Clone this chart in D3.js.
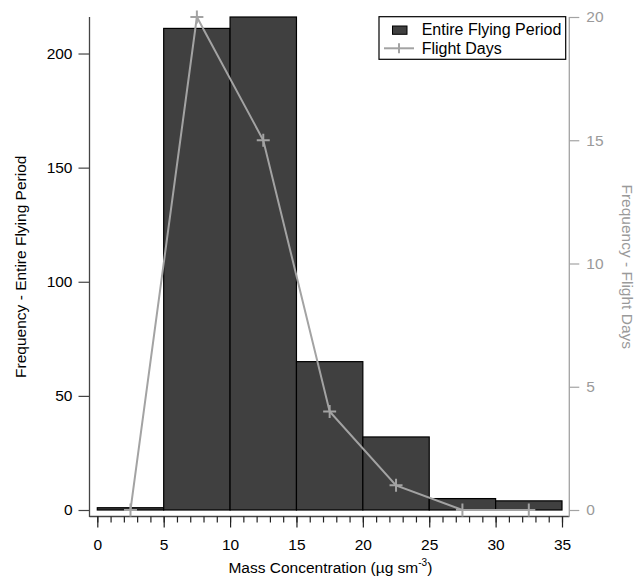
<!DOCTYPE html>
<html>
<head>
<meta charset="utf-8">
<script src="https://cdn.jsdelivr.net/npm/d3@7"></script>
<style>
  html, body { margin: 0; padding: 0; background: #fff; }
  svg { display: block; font-family: "Liberation Sans", Arial, sans-serif; }
</style>
</head>
<body>
<svg id="chart" width="640" height="581"></svg>
<script>
// ---------- data ----------
const binStarts   = [0, 5, 10, 15, 20, 25, 30];
const binWidth    = 5;
const entireFreq  = [1, 211, 216, 65, 32, 5, 4];
const flightCenters = [2.5, 7.5, 12.5, 17.5, 22.5, 27.5, 32.5];
const flightDays  = [0, 20, 15, 4, 1, 0, 0];
const xTicks      = [0, 5, 10, 15, 20, 25, 30, 35];
const leftTicks   = [0, 50, 100, 150, 200];
const rightTicks  = [0, 5, 10, 15, 20];
const legendLabels = ["Entire Flying Period", "Flight Days"];

// ---------- layout ----------
const svg = d3.select("#chart");
const axL = 89.5, axR = 569.3, axT = 17, axB = 516.5;
const fontSize = 15.5;
const barFill = "#404040";
const lineGray = "#a3a3a3";
const rightGray = "#9a9a9a";

const x = d3.scaleLinear().domain([0, 35]).range([97.3, 562]);
const yL = d3.scaleLinear().domain([0, 216]).range([510, 17]);
const yR = d3.scaleLinear().domain([0, 20]).range([510, 17]);

// ---------- bars ----------
svg.append("g").selectAll("rect").data(binStarts).join("rect")
  .attr("x", d => x(d))
  .attr("width", d => x(d + binWidth) - x(d))
  .attr("y", (d, i) => yL(entireFreq[i]))
  .attr("height", (d, i) => yL(0) - yL(entireFreq[i]))
  .attr("fill", barFill)
  .attr("stroke", "#000")
  .attr("stroke-width", 1.2);

// ---------- axes lines ----------
svg.append("line").attr("x1", axL).attr("x2", axL).attr("y1", axT).attr("y2", axB + 0.5)
  .attr("stroke", "#444").attr("stroke-width", 1.3);
svg.append("line").attr("x1", axL).attr("x2", axR).attr("y1", axB).attr("y2", axB)
  .attr("stroke", "#444").attr("stroke-width", 1.3);
svg.append("line").attr("x1", axR).attr("x2", axR).attr("y1", axT).attr("y2", axB + 0.5)
  .attr("stroke", lineGray).attr("stroke-width", 1.3);

// ---------- bottom axis ----------
const gxMinor = svg.append("g").attr("transform", `translate(0,${axB})`)
  .call(d3.axisBottom(x).tickValues(d3.range(0, 36, 1)).tickSize(6).tickFormat(""));
const gx = svg.append("g").attr("transform", `translate(0,${axB})`)
  .call(d3.axisBottom(x).tickValues(xTicks).tickSize(11).tickPadding(11.5).tickFormat(d3.format("d")));
[gxMinor, gx].forEach(g => {
  g.select(".domain").remove();
  g.selectAll("line").attr("stroke", "#222").attr("stroke-width", 1.2);
});
gx.selectAll("text").attr("font-size", fontSize).attr("font-family", "Liberation Sans, Arial, sans-serif")
  .attr("fill", "#000").attr("dy", "0.71em");

// ---------- left axis ----------
const gy = svg.append("g").attr("transform", `translate(${axL},0)`)
  .call(d3.axisLeft(yL).tickValues(leftTicks).tickSize(11).tickPadding(6).tickFormat(d3.format("d")));
gy.select(".domain").remove();
gy.selectAll("line").attr("stroke", "#444").attr("stroke-width", 1.2);
gy.selectAll("text").attr("font-size", fontSize).attr("font-family", "Liberation Sans, Arial, sans-serif")
  .attr("fill", "#000");

// ---------- right axis ----------
const gyr = svg.append("g").attr("transform", `translate(${axR},0)`)
  .call(d3.axisRight(yR).tickValues(rightTicks).tickSize(10).tickPadding(7).tickFormat(d3.format("d")));
gyr.select(".domain").remove();
gyr.selectAll("line").attr("stroke", lineGray).attr("stroke-width", 1.2);
gyr.selectAll("text").attr("font-size", fontSize).attr("font-family", "Liberation Sans, Arial, sans-serif")
  .attr("fill", rightGray);

// ---------- line series ----------
const pts = flightCenters.map((c, i) => [c, flightDays[i]]);
svg.append("path").datum(pts)
  .attr("d", d3.line().x(d => x(d[0])).y(d => yR(d[1])))
  .attr("fill", "none").attr("stroke", lineGray).attr("stroke-width", 2);
const m = 6.5;
svg.append("g").selectAll("path").data(pts).join("path")
  .attr("d", d => `M${x(d[0]) - m},${yR(d[1])}H${x(d[0]) + m}M${x(d[0])},${yR(d[1]) - m}V${yR(d[1]) + m}`)
  .attr("stroke", lineGray).attr("stroke-width", 2).attr("fill", "none");

// ---------- axis titles ----------
svg.append("text")
  .attr("transform", `translate(25.5,${(axT + axB) / 2}) rotate(-90)`)
  .attr("text-anchor", "middle").attr("font-size", fontSize).attr("fill", "#000")
  .text("Frequency - Entire Flying Period");

svg.append("text")
  .attr("transform", `translate(622,${(axT + axB) / 2}) rotate(90)`)
  .attr("text-anchor", "middle").attr("font-size", fontSize).attr("fill", rightGray)
  .text("Frequency - Flight Days");

const xt = svg.append("text")
  .attr("x", (axL + axR) / 2 + 1).attr("y", 572.5)
  .attr("text-anchor", "middle").attr("font-size", fontSize).attr("fill", "#000");
xt.append("tspan").text("Mass Concentration (µg sm");
xt.append("tspan").attr("dy", -7).attr("font-size", 10).text("-3");
xt.append("tspan").attr("dy", 7).text(")");

// ---------- legend ----------
const lg = svg.append("g");
lg.append("rect").attr("x", 379).attr("y", 16.7).attr("width", 186.7).attr("height", 42.6)
  .attr("fill", "#fff").attr("stroke", "#000").attr("stroke-width", 1.2);
lg.append("rect").attr("x", 392.5).attr("y", 26).attr("width", 14.5).attr("height", 8.3)
  .attr("fill", barFill).attr("stroke", "#000").attr("stroke-width", 1);
lg.append("line").attr("x1", 384).attr("x2", 414).attr("y1", 48.3).attr("y2", 48.3)
  .attr("stroke", lineGray).attr("stroke-width", 2);
lg.append("path").attr("d", `M399,${48.3 - 5}V${48.3 + 5}`)
  .attr("stroke", lineGray).attr("stroke-width", 2);
lg.selectAll("text").data(legendLabels).join("text")
  .attr("x", 421.7).attr("y", (d, i) => 34.8 + i * 19)
  .attr("font-size", 16).attr("fill", "#000")
  .text(d => d);
</script>
</body>
</html>
